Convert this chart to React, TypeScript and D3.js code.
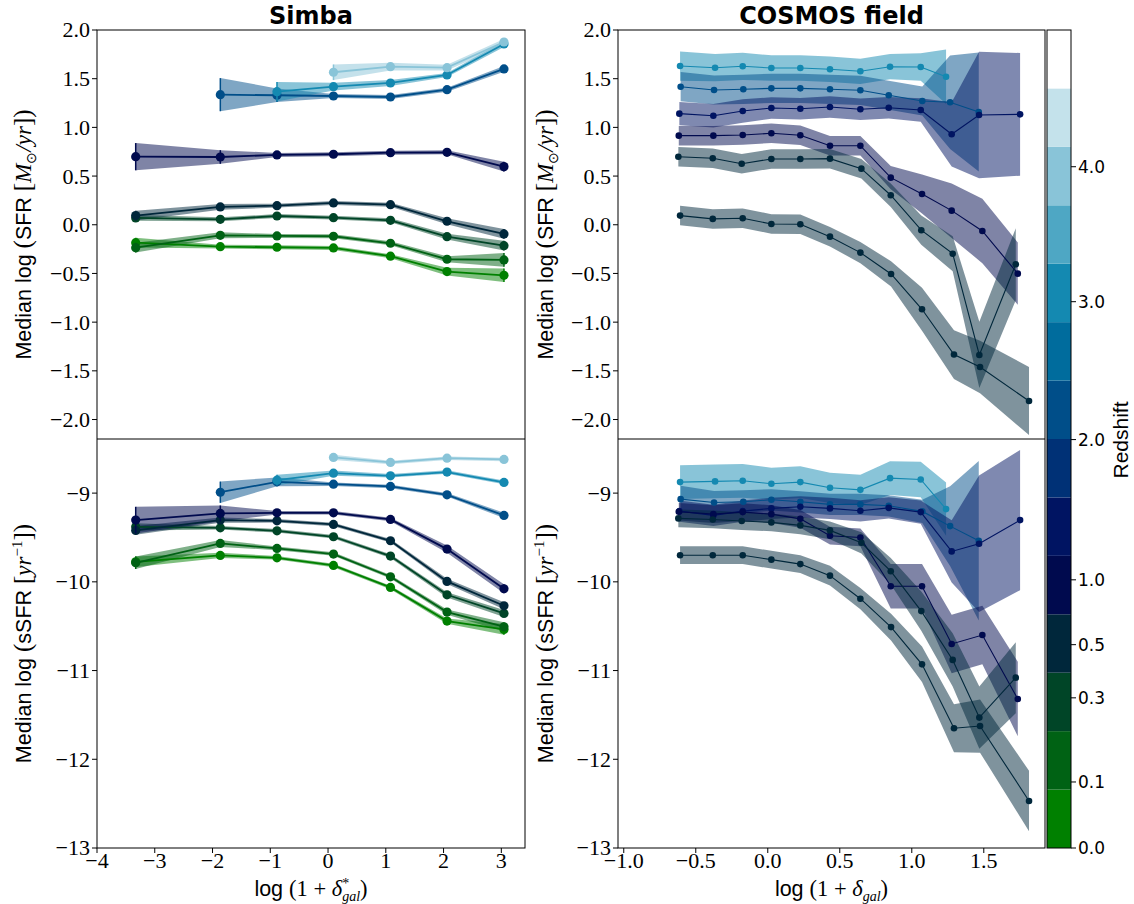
import React from "react";
import * as d3 from "d3";

const W = 1134;
const H = 904;

// ---------- Simba (left panels) ----------
const simbaX = [-3.33, -1.865, -0.884, 0.094, 1.081, 2.06, 3.046];
const simbaRedshift = ["0.0", "0.1", "0.3", "0.5", "1.0", "2.0", "3.0", "4.0"];
const simbaColorBin = [0, 1, 2, 3, 4, 7, 9, 11];

const simbaSfr: (number | null)[][] = [
  [-0.184, -0.225, -0.231, -0.238, -0.323, -0.481, -0.519],
  [-0.235, -0.108, -0.115, -0.118, -0.19, -0.354, -0.361],
  [0.07, 0.056, 0.09, 0.073, 0.046, -0.122, -0.215],
  [0.094, 0.183, 0.196, 0.224, 0.206, 0.036, -0.094],
  [0.699, 0.696, 0.717, 0.724, 0.74, 0.744, 0.597],
  [null, 1.336, 1.33, 1.322, 1.312, 1.387, 1.6],
  [null, null, 1.367, 1.418, 1.456, 1.538, 1.856],
  [null, null, null, 1.566, 1.623, 1.613, 1.877],
];
const simbaSfrErr: (number | null)[][] = [
  [0.05, 0.02, 0.02, 0.02, 0.02, 0.04, 0.07],
  [0.05, 0.03, 0.02, 0.02, 0.02, 0.03, 0.07],
  [0.03, 0.02, 0.02, 0.02, 0.02, 0.03, 0.05],
  [0.05, 0.03, 0.02, 0.02, 0.02, 0.03, 0.05],
  [0.14, 0.07, 0.02, 0.02, 0.02, 0.02, 0.05],
  [null, 0.17, 0.07, 0.02, 0.02, 0.02, 0.03],
  [null, null, 0.1, 0.04, 0.03, 0.02, 0.03],
  [null, null, null, 0.08, 0.04, 0.03, 0.03],
];
const simbaSsfr: (number | null)[][] = [
  [-9.774, -9.702, -9.729, -9.815, -10.063, -10.442, -10.536],
  [-9.785, -9.567, -9.623, -9.687, -9.943, -10.341, -10.506],
  [-9.38, -9.391, -9.425, -9.492, -9.71, -10.146, -10.356],
  [-9.42, -9.304, -9.312, -9.353, -9.537, -9.995, -10.27],
  [-9.304, -9.229, -9.222, -9.222, -9.297, -9.631, -10.078],
  [null, -8.99, -8.873, -8.899, -8.925, -9.019, -9.251],
  [null, null, -8.854, -8.775, -8.805, -8.763, -8.879],
  [null, null, null, -8.598, -8.654, -8.606, -8.62],
];
const simbaSsfrErr: (number | null)[][] = [
  [0.06, 0.03, 0.02, 0.02, 0.02, 0.03, 0.06],
  [0.07, 0.04, 0.02, 0.02, 0.02, 0.03, 0.05],
  [0.04, 0.02, 0.02, 0.02, 0.02, 0.03, 0.04],
  [0.05, 0.03, 0.02, 0.02, 0.02, 0.03, 0.04],
  [0.15, 0.09, 0.02, 0.02, 0.02, 0.04, 0.05],
  [null, 0.12, 0.05, 0.02, 0.02, 0.02, 0.03],
  [null, null, 0.06, 0.03, 0.02, 0.02, 0.02],
  [null, null, null, 0.03, 0.02, 0.02, 0.02],
];

// ---------- COSMOS (right panels) ----------
const cosmosColorBin = [9, 7, 5, 4, 3, 3];
const cosmosX: number[][] = [
  [-0.609, -0.366, -0.174, 0.025, 0.226, 0.432, 0.643, 0.849, 1.062, 1.238],
  [-0.605, -0.373, -0.17, 0.025, 0.226, 0.432, 0.643, 0.84, 1.073, 1.266, 1.465],
  [-0.614, -0.378, -0.174, 0.025, 0.226, 0.432, 0.643, 0.84, 1.062, 1.277, 1.467, 1.752],
  [-0.618, -0.378, -0.174, 0.025, 0.226, 0.432, 0.643, 0.854, 1.071, 1.277, 1.49, 1.736],
  [-0.621, -0.382, -0.181, 0.025, 0.226, 0.432, 0.65, 0.854, 1.066, 1.284, 1.469, 1.722],
  [-0.609, -0.382, -0.174, 0.025, 0.226, 0.432, 0.643, 0.856, 1.071, 1.293, 1.474, 1.814],
];
const cosmosSfr: number[][] = [
  [1.63, 1.613, 1.627, 1.61, 1.61, 1.597, 1.576, 1.623, 1.62, 1.52],
  [1.418, 1.384, 1.391, 1.401, 1.401, 1.391, 1.381, 1.33, 1.271, 1.258, 1.158],
  [1.141, 1.12, 1.168, 1.199, 1.192, 1.209, 1.186, 1.202, 1.179, 0.929, 1.127, 1.134],
  [0.915, 0.915, 0.922, 0.939, 0.919, 0.812, 0.812, 0.484, 0.316, 0.145, -0.064, -0.502],
  [0.699, 0.683, 0.627, 0.676, 0.676, 0.679, 0.576, 0.303, -0.056, -0.297, -1.337, -0.405],
  [0.094, 0.06, 0.067, 0.008, 0.005, -0.122, -0.286, -0.505, -0.868, -1.333, -1.46, -1.81],
];
const cosmosSfrErr: number[][] = [
  [0.15, 0.14, 0.14, 0.13, 0.13, 0.13, 0.13, 0.13, 0.14, 0.28],
  [0.15, 0.15, 0.15, 0.15, 0.15, 0.15, 0.15, 0.15, 0.15, 0.48, 0.61],
  [0.12, 0.12, 0.12, 0.11, 0.11, 0.11, 0.11, 0.11, 0.12, 0.33, 0.65, 0.63],
  [0.1, 0.1, 0.1, 0.1, 0.1, 0.1, 0.1, 0.12, 0.2, 0.28, 0.33, 0.32],
  [0.1, 0.1, 0.1, 0.1, 0.1, 0.1, 0.1, 0.12, 0.15, 0.18, 0.34, 0.37],
  [0.1, 0.1, 0.1, 0.1, 0.1, 0.1, 0.11, 0.13, 0.22, 0.25, 0.27, 0.35],
];
const cosmosSsfr: number[][] = [
  [-8.876, -8.868, -8.861, -8.895, -8.876, -8.94, -8.963, -8.831, -8.846, -9.18],
  [-9.068, -9.105, -9.098, -9.075, -9.098, -9.127, -9.127, -9.143, -9.206, -9.372, -9.537],
  [-9.203, -9.251, -9.203, -9.172, -9.154, -9.172, -9.199, -9.166, -9.214, -9.657, -9.571, -9.304],
  [-9.21, -9.237, -9.214, -9.237, -9.29, -9.48, -9.5, -10.05, -10.05, -10.7, -10.6, -11.32],
  [-9.285, -9.297, -9.315, -9.33, -9.364, -9.42, -9.56, -9.88, -10.33, -10.88, -11.53, -11.08],
  [-9.7, -9.7, -9.7, -9.75, -9.8, -9.93, -10.19, -10.51, -10.93, -11.65, -11.625, -12.47],
];
const cosmosSsfrErr: number[][] = [
  [0.19, 0.19, 0.19, 0.18, 0.18, 0.17, 0.17, 0.19, 0.2, 0.3],
  [0.15, 0.13, 0.13, 0.12, 0.12, 0.12, 0.12, 0.12, 0.13, 0.45, 0.9],
  [0.12, 0.12, 0.12, 0.12, 0.12, 0.12, 0.12, 0.12, 0.13, 0.35, 0.77, 0.79],
  [0.1, 0.1, 0.1, 0.1, 0.1, 0.1, 0.1, 0.25, 0.25, 0.33, 0.33, 0.42],
  [0.1, 0.1, 0.1, 0.1, 0.1, 0.1, 0.12, 0.15, 0.22, 0.3, 0.35, 0.4],
  [0.1, 0.1, 0.1, 0.1, 0.1, 0.11, 0.12, 0.15, 0.2, 0.27, 0.3, 0.34],
];

// ---------- axes ticks ----------
const sfrTicks = [2.0, 1.5, 1.0, 0.5, 0.0, -0.5, -1.0, -1.5, -2.0];
const ssfrTicks = [-9, -10, -11, -12, -13];
const simbaXTicks = [-4, -3, -2, -1, 0, 1, 2, 3];
const cosmosXTicks = [-1.0, -0.5, 0.0, 0.5, 1.0, 1.5];

// ---------- colorbar ----------
const cbBins = 14;
const cbTickLabels = ["0.0", "0.1", "0.3", "0.5", "1.0", "2.0", "3.0", "4.0"];
const cbTickPos = [0, 1.13, 2.57, 3.48, 4.59, 6.99, 9.35, 11.66];

// matplotlib "ocean" colormap
function ocean(t: number): string {
  const c = (v: number) => Math.max(0, Math.min(1, v));
  return d3.rgb(c(3 * t - 2) * 255, c(Math.abs(1.5 * t - 0.5)) * 255, c(t) * 255).formatHex();
}
const binColor = (i: number) => ocean(i / (cbBins - 1));

const minus = (s: string) => s.replace("-", "\u2212");

const SERIF = "'Liberation Serif', 'Times New Roman', serif";
const SANS = "'Liberation Sans', Arial, sans-serif";

type Pt = { x: number; v: number; e: number };

function buildPts(xs: number[], vs: (number | null)[], es: (number | null)[]): Pt[] {
  const pts: Pt[] = [];
  xs.forEach((x, i) => {
    const v = vs[i];
    const e = es[i];
    if (v != null && e != null) pts.push({ x, v, e });
  });
  return pts;
}

function Panel(props: {
  id: string;
  xs: d3.ScaleLinear<number, number>;
  ys: d3.ScaleLinear<number, number>;
  series: { pts: Pt[]; color: string }[];
  lineW: number;
  r: number;
  errBars: boolean;
  bandAlpha: number;
}) {
  const { id, xs, ys, series, lineW, r, errBars, bandAlpha } = props;
  const [x0, x1] = xs.range();
  const [y0, y1] = ys.range();
  const area = d3
    .area<Pt>()
    .x((d) => xs(d.x))
    .y0((d) => ys(d.v - d.e))
    .y1((d) => ys(d.v + d.e));
  const line = d3
    .line<Pt>()
    .x((d) => xs(d.x))
    .y((d) => ys(d.v));
  return (
    <g>
      <defs>
        <clipPath id={id}>
          <rect x={x0} y={y1} width={x1 - x0} height={y0 - y1} />
        </clipPath>
      </defs>
      <g clipPath={`url(#${id})`}>
        {series.map((s, i) => (
          <path key={"a" + i} d={area(s.pts) || ""} fill={s.color} fillOpacity={bandAlpha} stroke="none" />
        ))}
        {series.map((s, i) => (
          <g key={"l" + i}>
            {errBars &&
              s.pts.map((p, j) => (
                <line
                  key={j}
                  x1={xs(p.x)}
                  x2={xs(p.x)}
                  y1={ys(p.v - p.e)}
                  y2={ys(p.v + p.e)}
                  stroke={s.color}
                  strokeWidth={1.5}
                />
              ))}
            <path d={line(s.pts) || ""} fill="none" stroke={s.color} strokeWidth={lineW} />
            {s.pts.map((p, j) => (
              <circle key={j} cx={xs(p.x)} cy={ys(p.v)} r={r} fill={s.color} />
            ))}
          </g>
        ))}
      </g>
    </g>
  );
}

function YAxis(props: { x: number; ys: d3.ScaleLinear<number, number>; ticks: number[]; fmt: (v: number) => string }) {
  const { x, ys, ticks, fmt } = props;
  return (
    <g>
      {ticks.map((t) => (
        <g key={t}>
          <line x1={x - 5} x2={x} y1={ys(t)} y2={ys(t)} stroke="#000" strokeWidth={1} />
          <text x={x - 7} y={ys(t)} dy="0.34em" textAnchor="end" fontFamily={SERIF} fontSize={22}>
            {minus(fmt(t))}
          </text>
        </g>
      ))}
    </g>
  );
}

function XAxis(props: { y: number; xs: d3.ScaleLinear<number, number>; ticks: number[]; fmt: (v: number) => string }) {
  const { y, xs, ticks, fmt } = props;
  return (
    <g>
      {ticks.map((t) => (
        <g key={t}>
          <line x1={xs(t)} x2={xs(t)} y1={y} y2={y + 5} stroke="#000" strokeWidth={1} />
          <text x={xs(t)} y={y + 20} textAnchor="middle" fontFamily={SERIF} fontSize={22}>
            {minus(fmt(t))}
          </text>
        </g>
      ))}
    </g>
  );
}

export default function App() {
  const top = 30;
  const mid = 439;
  const bot = 848;
  const leftX = d3.scaleLinear().domain([-4, 3.41]).range([97, 525]);
  const rightX = d3.scaleLinear().domain([-1.04, 1.925]).range([618, 1045]);
  const sfrY = d3.scaleLinear().domain([-2.2, 2.0]).range([mid, top]);
  const ssfrY = d3.scaleLinear().domain([-13, -8.39]).range([bot, mid]);
  const cbY = d3.scaleLinear().domain([0, cbBins]).range([bot, top]);
  const cbX0 = 1047;
  const cbX1 = 1071;

  const simbaTop = simbaSfr.map((vs, i) => ({
    pts: buildPts(simbaX, vs, simbaSfrErr[i]),
    color: binColor(simbaColorBin[i]),
  }));
  const simbaBot = simbaSsfr.map((vs, i) => ({
    pts: buildPts(simbaX, vs, simbaSsfrErr[i]),
    color: binColor(simbaColorBin[i]),
  }));
  const cosmosTop = cosmosSfr.map((vs, i) => ({
    pts: buildPts(cosmosX[i], vs, cosmosSfrErr[i]),
    color: binColor(cosmosColorBin[i]),
  }));
  const cosmosBot = cosmosSsfr.map((vs, i) => ({
    pts: buildPts(cosmosX[i], vs, cosmosSsfrErr[i]),
    color: binColor(cosmosColorBin[i]),
  }));

  const f1 = (v: number) => v.toFixed(1);
  const f0 = (v: number) => v.toFixed(0);

  const LS = 21.5;
  const PS = 25;
  const XPS = 22.5;
  const sfrLabel = (x: number, y: number) => (
    <text transform={`translate(${x},${y}) rotate(-90)`} textAnchor="middle" fontFamily={SANS} fontSize={LS}>
      Median log <tspan fontFamily={SERIF} fontSize={PS}>(</tspan>SFR <tspan fontFamily={SERIF} fontSize={PS}>[</tspan>
      <tspan fontFamily={SERIF} fontStyle="italic" fontSize={23}>M</tspan>
      <tspan fontFamily={SERIF} fontSize={14} dy={5}>⊙</tspan>
      <tspan fontFamily={SERIF} fontStyle="italic" fontSize={23} dy={-5}>/yr</tspan>
      <tspan fontFamily={SERIF} fontSize={PS}>]</tspan>
      <tspan fontFamily={SERIF} fontSize={PS}>)</tspan>
    </text>
  );
  const ssfrLabel = (x: number, y: number) => (
    <text transform={`translate(${x},${y}) rotate(-90)`} textAnchor="middle" fontFamily={SANS} fontSize={LS}>
      Median log <tspan fontFamily={SERIF} fontSize={PS}>(</tspan>sSFR <tspan fontFamily={SERIF} fontSize={PS}>[</tspan>
      <tspan fontFamily={SERIF} fontStyle="italic" fontSize={23}>yr</tspan>
      <tspan fontFamily={SERIF} fontSize={15} dy={-9}>{"\u22121"}</tspan>
      <tspan fontFamily={SERIF} fontSize={PS} dy={9}>]</tspan>
      <tspan fontFamily={SERIF} fontSize={PS}>)</tspan>
    </text>
  );
  const xLabel = (x: number, y: number, star: boolean) => (
    <text x={x} y={y} textAnchor="middle" fontFamily={SANS} fontSize={LS}>
      log <tspan fontFamily={SERIF} fontSize={XPS}>(1 + </tspan>
      <tspan fontFamily={SERIF} fontStyle="italic" fontSize={22.5}>δ</tspan>
      {star ? (
        <>
          <tspan fontFamily={SERIF} fontSize={14} dy={-8}>*</tspan>
          <tspan fontFamily={SERIF} fontStyle="italic" fontSize={14} dx={-7} dy={13}>gal</tspan>
          <tspan fontFamily={SERIF} fontSize={XPS} dy={-5}>)</tspan>
        </>
      ) : (
        <>
          <tspan fontFamily={SERIF} fontStyle="italic" fontSize={14} dy={5}>gal</tspan>
          <tspan fontFamily={SERIF} fontSize={XPS} dy={-5}>)</tspan>
        </>
      )}
    </text>
  );

  return (
    <div style={{ position: "absolute", left: 0, top: 0, width: W, height: H, background: "#fff" }}>
      <svg width={W} height={H} viewBox={`0 0 ${W} ${H}`} style={{ display: "block" }}>
        <rect x={0} y={0} width={W} height={H} fill="#fff" />

        {/* panels */}
        <Panel id="c1" xs={leftX} ys={sfrY} series={simbaTop} lineW={1.8} r={4.6} errBars={true} bandAlpha={0.5} />
        <Panel id="c2" xs={leftX} ys={ssfrY} series={simbaBot} lineW={1.8} r={4.6} errBars={true} bandAlpha={0.5} />
        <Panel id="c3" xs={rightX} ys={sfrY} series={cosmosTop} lineW={1.1} r={3.3} errBars={false} bandAlpha={0.5} />
        <Panel id="c4" xs={rightX} ys={ssfrY} series={cosmosBot} lineW={1.1} r={3.3} errBars={false} bandAlpha={0.5} />

        {/* frames */}
        <rect x={97} y={top} width={525 - 97} height={bot - top} fill="none" stroke="#000" strokeWidth={1} />
        <line x1={97} x2={525} y1={mid} y2={mid} stroke="#000" strokeWidth={1} />
        <rect x={618} y={top} width={1045 - 618} height={bot - top} fill="none" stroke="#000" strokeWidth={1} />
        <line x1={618} x2={1045} y1={mid} y2={mid} stroke="#000" strokeWidth={1} />

        {/* axes */}
        <YAxis x={97} ys={sfrY} ticks={sfrTicks} fmt={f1} />
        <YAxis x={97} ys={ssfrY} ticks={ssfrTicks} fmt={f0} />
        <YAxis x={618} ys={sfrY} ticks={sfrTicks} fmt={f1} />
        <YAxis x={618} ys={ssfrY} ticks={ssfrTicks} fmt={f0} />
        <XAxis y={bot} xs={leftX} ticks={simbaXTicks} fmt={f0} />
        <XAxis y={bot} xs={rightX} ticks={cosmosXTicks} fmt={f1} />

        {/* titles */}
        <text x={311} y={24} textAnchor="middle" fontFamily="'DejaVu Sans', sans-serif" fontWeight="bold" fontSize={24}>
          Simba
        </text>
        <text x={831.5} y={24} textAnchor="middle" fontFamily="'DejaVu Sans', sans-serif" fontWeight="bold" fontSize={24}>
          COSMOS field
        </text>

        {/* axis labels */}
        {sfrLabel(31, 234.5)}
        {ssfrLabel(31, 643.5)}
        {sfrLabel(553, 234.5)}
        {ssfrLabel(553, 643.5)}
        {xLabel(311, 896, true)}
        {xLabel(831.5, 896, false)}

        {/* colorbar */}
        {d3.range(cbBins).map((i) => (
          <rect key={i} x={cbX0} y={cbY(i + 1)} width={cbX1 - cbX0} height={cbY(i) - cbY(i + 1)} fill={binColor(i)} stroke="none" />
        ))}
        <rect x={cbX0} y={top} width={cbX1 - cbX0} height={bot - top} fill="none" stroke="#000" strokeWidth={1} />
        {cbTickLabels.map((lab, i) => (
          <g key={lab}>
            <line x1={cbX1} x2={cbX1 + 5} y1={cbY(cbTickPos[i])} y2={cbY(cbTickPos[i])} stroke="#000" />
            <text x={cbX1 + 7} y={cbY(cbTickPos[i])} dy="0.36em" fontFamily="'DejaVu Sans', sans-serif" fontSize={17}>
              {lab}
            </text>
          </g>
        ))}
        <text transform={`translate(1128,440) rotate(-90)`} textAnchor="middle" fontFamily={SANS} fontSize={21}>
          Redshift
        </text>
      </svg>
    </div>
  );
}
